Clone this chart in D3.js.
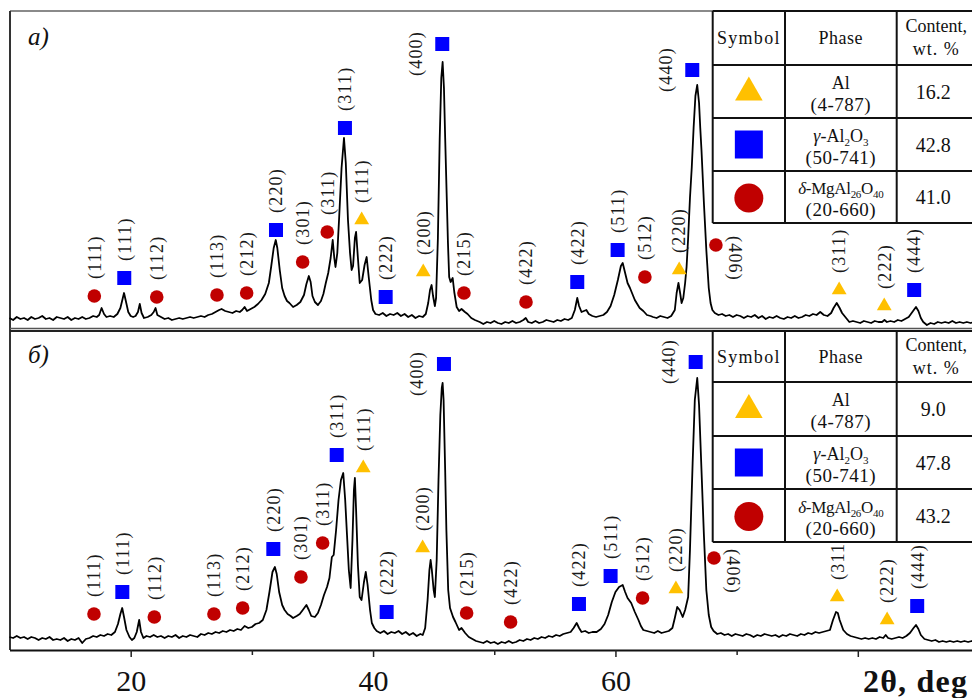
<!DOCTYPE html>
<html>
<head>
<meta charset="utf-8">
<script src="https://cdn.jsdelivr.net/npm/d3@7"></script>
<style>
  html, body { margin: 0; padding: 0; background: #fff; }
  svg { display: block; font-family: "Liberation Serif", "DejaVu Serif", serif; }
</style>
</head>
<body>
<svg id="chart" width="972" height="698"></svg>
<script>
// ---------------- DATA ----------------
// XRD pattern a): [2theta, intensity (a.u.)]
const patternA = [
[10.0,10],[10.3,8],[10.6,11],[10.9,9],[11.2,10],[11.5,8],[11.8,11],[12.1,9],[12.4,10],[12.7,12],
[13.0,9],[13.3,10],[13.6,8],[13.9,11],[14.2,10],[14.5,9],[14.8,11],[15.1,8],[15.4,10],[15.7,9],
[16.0,11],[16.3,9],[16.6,10],[16.9,12],[17.2,11],[17.4,13],[17.6,20],[17.8,14],[18.0,11],[18.3,12],
[18.6,11],[18.9,14],[19.15,20],[19.35,30],[19.45,35],[19.6,27],[19.8,16],[20.0,12],[20.2,11],[20.4,12],
[20.6,16],[20.75,24],[20.9,15],[21.1,10],[21.4,11],[21.7,13],[21.9,16],[22.05,20],[22.2,13],[22.5,11],
[22.8,9],[23.1,10],[23.4,8],[23.7,9],[24.0,10],[24.3,9],[24.6,10],[24.9,11],[25.2,10],[25.5,11],
[25.8,12],[26.1,11],[26.4,13],[26.7,14],[27.0,16],[27.3,18],[27.5,19],[27.8,17],[28.1,16],[28.4,15],
[28.7,17],[29.0,16],[29.2,18],[29.4,21],[29.6,17],[29.9,19],[30.2,21],[30.5,24],[30.8,28],[31.1,34],
[31.4,45],[31.6,62],[31.8,80],[31.97,88],[32.1,80],[32.3,58],[32.5,40],[32.7,32],[32.9,27],[33.1,25],
[33.4,21],[33.7,23],[34.0,26],[34.3,33],[34.5,44],[34.7,52],[34.85,46],[35.0,32],[35.2,26],[35.45,23],
[35.7,27],[35.9,34],[36.1,45],[36.3,55],[36.5,70],[36.67,88],[36.8,70],[36.9,61],[37.05,75],[37.2,110],
[37.4,160],[37.6,190],[37.75,165],[37.93,108],[38.1,75],[38.23,58],[38.35,62],[38.5,90],[38.6,96],[38.75,70],
[38.9,45],[39.1,48],[39.3,63],[39.47,71],[39.65,50],[39.85,28],[40.0,18],[40.2,14],[40.5,13],[40.8,15],
[41.1,12],[41.4,14],[41.7,13],[42.0,15],[42.3,12],[42.6,14],[42.9,11],[43.2,13],[43.5,10],[43.8,12],
[44.1,11],[44.35,14],[44.55,25],[44.7,38],[44.83,43],[44.95,32],[45.1,22],[45.2,30],[45.35,90],[45.5,190],
[45.63,250],[45.74,266],[45.85,240],[45.95,190],[46.07,135],[46.18,85],[46.28,51],[46.4,46],[46.57,50],[46.7,36],
[46.9,21],[47.1,17],[47.3,19],[47.58,16],[47.8,14],[48.1,10],[48.4,8],[48.8,6],[49.1,4],[49.4,6],
[49.7,5],[50.0,7],[50.3,5],[50.6,4],[50.9,6],[51.2,5],[51.5,7],[51.8,5],[52.1,6],[52.4,8],
[52.6,10],[52.8,6],[53.1,5],[53.4,7],[53.7,5],[54.0,6],[54.3,8],[54.6,7],[54.9,6],[55.2,8],
[55.5,7],[55.8,9],[56.1,8],[56.4,10],[56.65,18],[56.85,30],[57.0,22],[57.2,16],[57.4,17],[57.6,18],
[57.8,14],[58.1,12],[58.4,11],[58.7,12],[59.0,13],[59.3,16],[59.6,22],[59.9,33],[60.2,48],[60.45,62],
[60.6,65],[60.8,55],[61.0,45],[61.2,40],[61.4,34],[61.6,28],[61.75,25],[62.0,20],[62.3,17],[62.6,13],
[62.9,12],[63.1,11],[63.4,10],[63.7,12],[64.0,11],[64.3,10],[64.6,12],[64.9,18],[65.05,35],[65.2,45],
[65.35,34],[65.46,25],[65.6,30],[65.75,45],[65.87,61],[66.0,90],[66.15,130],[66.3,161],[66.45,200],[66.6,232],
[66.75,243],[66.9,225],[67.0,200],[67.1,178],[67.3,125],[67.5,78],[67.7,40],[67.85,25],[68.0,18],[68.2,15],
[68.5,13],[68.8,14],[69.1,12],[69.4,13],[69.7,11],[70.0,13],[70.3,12],[70.6,10],[70.9,12],[71.2,11],
[71.5,13],[71.8,10],[72.1,12],[72.4,9],[72.7,11],[73.0,10],[73.3,12],[73.6,10],[73.9,9],[74.2,11],
[74.5,10],[74.8,12],[75.1,10],[75.4,11],[75.7,13],[76.0,12],[76.3,14],[76.6,13],[76.9,16],[77.2,13],
[77.5,12],[77.8,15],[78.0,20],[78.26,25],[78.5,20],[78.7,15],[78.9,12],[79.1,9],[79.3,6],[79.6,7],
[79.9,6],[80.2,5],[80.5,7],[80.8,6],[81.1,5],[81.4,7],[81.7,6],[82.0,6],[82.2,8],[82.4,6],
[82.7,7],[83.0,6],[83.3,8],[83.6,7],[83.9,9],[84.2,11],[84.5,16],[84.8,21],[85.0,17],[85.2,10],
[85.4,6],[85.7,3],[86.0,5],[86.3,4],[86.6,6],[86.9,5],[87.2,6],[87.5,5],[87.8,7],[88.1,5],
[88.4,6],[88.7,5],[89.0,6],[89.3,5],[89.6,6],[90.0,6]
];

// XRD pattern б): [2theta, intensity (a.u.)]
const patternB = [
[10.0,13],[10.3,12],[10.6,14],[10.9,12],[11.2,13],[11.5,11],[11.8,13],[12.1,12],[12.4,10],[12.7,12],
[13.0,11],[13.3,13],[13.6,10],[13.9,11],[14.2,10],[14.5,12],[14.8,9],[15.1,11],[15.4,10],[15.7,12],
[16.0,7],[16.3,11],[16.6,12],[16.9,14],[17.2,13],[17.5,15],[17.8,14],[18.1,16],[18.4,15],[18.7,18],
[18.95,26],[19.15,36],[19.3,42],[19.45,33],[19.65,20],[19.9,13],[20.1,10],[20.3,12],[20.5,18],[20.7,30],
[20.85,18],[21.05,12],[21.3,14],[21.6,13],[21.9,15],[22.2,13],[22.5,14],[22.8,12],[23.1,14],[23.4,13],
[23.7,15],[24.0,12],[24.3,14],[24.6,13],[24.9,15],[25.2,14],[25.5,13],[25.8,16],[26.1,15],[26.4,17],
[26.7,16],[27.0,18],[27.3,17],[27.6,19],[27.9,18],[28.2,20],[28.5,19],[28.8,21],[29.1,20],[29.4,24],
[29.7,22],[30.0,23],[30.3,26],[30.6,27],[30.9,30],[31.2,40],[31.45,58],[31.7,78],[31.9,83],[32.05,76],
[32.25,58],[32.5,45],[32.7,40],[32.95,36],[33.2,34],[33.4,32],[33.7,34],[33.95,36],[34.2,40],[34.5,45],
[34.7,40],[34.9,34],[35.2,33],[35.45,37],[35.7,45],[35.95,55],[36.2,63],[36.4,72],[36.6,93],[36.75,95],
[36.95,120],[37.15,150],[37.35,170],[37.54,177],[37.7,150],[37.85,115],[38.0,80],[38.15,62],[38.3,110],[38.42,160],
[38.5,172],[38.6,140],[38.75,85],[38.9,53],[39.05,50],[39.25,68],[39.4,78],[39.55,65],[39.75,40],[39.9,27],
[40.1,22],[40.3,19],[40.6,17],[40.9,19],[41.2,16],[41.5,18],[41.8,17],[42.1,19],[42.4,16],[42.7,18],
[43.0,15],[43.3,17],[43.6,14],[43.9,16],[44.1,15],[44.3,22],[44.5,50],[44.65,80],[44.75,90],[44.85,80],
[45.0,60],[45.1,53],[45.25,90],[45.4,170],[45.55,235],[45.67,262],[45.74,267],[45.82,250],[45.95,180],[46.05,120],
[46.2,60],[46.35,42],[46.6,33],[46.8,28],[47.1,20],[47.3,22],[47.6,17],[47.9,13],[48.2,11],[48.5,9],
[48.8,8],[49.1,7],[49.4,9],[49.7,7],[50.0,8],[50.3,6],[50.6,8],[50.9,7],[51.2,9],[51.5,7],
[51.8,8],[52.1,10],[52.4,9],[52.7,11],[53.0,10],[53.3,12],[53.6,11],[53.9,13],[54.2,12],[54.5,14],
[54.8,13],[55.1,15],[55.4,14],[55.7,16],[56.0,17],[56.3,18],[56.55,22],[56.8,27],[57.0,22],[57.2,18],
[57.5,19],[57.8,17],[58.1,18],[58.45,18],[58.8,21],[59.1,26],[59.4,35],[59.7,48],[60.0,58],[60.3,63],
[60.6,65],[60.8,58],[61.0,52],[61.3,47],[61.6,38],[61.9,30],[62.1,24],[62.3,20],[62.6,19],[62.9,18],
[63.2,17],[63.5,19],[63.8,17],[64.1,18],[64.4,19],[64.7,22],[64.9,32],[65.1,43],[65.3,40],[65.55,33],
[65.75,40],[66.0,53],[66.15,100],[66.37,187],[66.55,250],[66.75,272],[66.9,245],[67.1,180],[67.3,115],[67.5,60],
[67.7,35],[67.9,23],[68.1,19],[68.4,16],[68.7,17],[69.0,15],[69.3,16],[69.6,14],[69.9,16],[70.2,15],
[70.5,14],[70.8,16],[71.1,15],[71.4,13],[71.7,15],[72.0,14],[72.3,16],[72.6,15],[72.9,14],[73.2,15],
[73.5,13],[73.8,15],[74.1,14],[74.4,16],[74.7,15],[75.0,14],[75.3,16],[75.6,15],[75.9,17],[76.2,16],
[76.5,18],[76.8,17],[77.1,18],[77.4,19],[77.7,20],[77.95,30],[78.2,38],[78.35,37],[78.5,30],[78.8,20],
[79.1,16],[79.4,14],[79.7,13],[80.0,12],[80.3,11],[80.6,12],[80.9,11],[81.2,12],[81.5,11],[81.8,13],
[82.1,12],[82.3,15],[82.5,12],[82.8,11],[83.1,12],[83.4,13],[83.7,12],[84.0,14],[84.3,17],[84.6,22],
[84.8,25],[85.0,21],[85.2,15],[85.5,11],[85.8,10],[86.1,9],[86.4,10],[86.7,8],[87.0,9],[87.3,8],
[87.6,9],[87.9,8],[88.2,9],[88.5,8],[88.8,9],[89.1,8],[89.4,9],[89.7,8],[90.0,8]
];

// Phase markers: [2theta, intensity, phase, (hkl)]
const markersA = [
[17.0,32,"d","(111)"],[19.47,50,"g","(111)"],[22.15,31,"d","(112)"],[27.12,33,"d","(113)"],
[29.57,35,"d","(212)"],[31.99,98,"g","(220)"],[34.19,66,"d","(301)"],[36.22,96,"d","(311)"],
[37.68,200,"g","(311)"],[39.06,108,"a","(111)"],[41.04,31,"g","(222)"],[44.14,56,"a","(200)"],
[45.71,284,"g","(400)"],[47.5,35,"d","(215)"],[52.62,26,"d","(422)"],[56.85,46,"g","(422)"],
[60.18,78,"g","(511)"],[62.43,51,"d","(512)"],[65.26,58,"a","(220)"],[66.34,258,"g","(440)"],
[68.29,83,"d","(406)"],[78.46,38,"a","(311)"],[82.18,22,"a","(222)"],[84.65,38,"g","(444)"]
];
const markersB = [
[16.97,36,"d","(111)"],[19.31,58,"g","(111)"],[21.95,33,"d","(112)"],[26.87,36,"d","(113)"],
[29.24,42,"d","(212)"],[31.77,101,"g","(220)"],[34.05,73,"d","(301)"],[35.84,107,"d","(311)"],
[37.0,195,"g","(311)"],[39.19,182,"a","(111)"],[41.12,38,"g","(222)"],[44.09,102,"a","(200)"],
[45.85,286,"g","(400)"],[47.72,37,"d","(215)"],[51.35,28,"d","(422)"],[56.99,46,"g","(422)"],
[59.6,74,"g","(511)"],[62.24,52,"d","(512)"],[64.99,61,"a","(220)"],[66.62,288,"g","(440)"],
[68.13,92,"d","(406)"],[78.3,53,"a","(311)"],[82.42,30,"a","(222)"],[84.9,44,"g","(444)"]
];

// Phase table
const phaseKeys = ["a", "g", "d"];
const phaseCards = ["(4-787)", "(50-741)", "(20-660)"];
const contentA = ["16.2", "42.8", "41.0"];
const contentB = ["9.0", "47.8", "43.2"];

// Axis
const majorTicks = [20, 40, 60, 80];
const minorTicks = [30, 50, 70];
const tickLabels = ["20", "40", "60", ""];

// ---------------- DRAW ----------------
const svg = d3.select("#chart");
const colors = { a: "#FFC000", g: "#0000FF", d: "#C00000" };

const x = d3.scaleLinear().domain([10, 90]).range([9.5, 979]);
const yA = d3.scaleLinear().domain([0, 317]).range([328, 11]);
const yB = d3.scaleLinear().domain([0, 319]).range([650, 331]);

// frames
svg.append("line").attr("x1", 10).attr("x2", 972).attr("y1", 11).attr("y2", 11)
  .attr("stroke", "#8a8a8a").attr("stroke-width", 2);
svg.append("line").attr("x1", 10).attr("x2", 10).attr("y1", 11).attr("y2", 650)
  .attr("stroke", "#333").attr("stroke-width", 2);
svg.append("line").attr("x1", 10).attr("x2", 972).attr("y1", 328.5).attr("y2", 328.5)
  .attr("stroke", "#555").attr("stroke-width", 1.5);
svg.append("line").attr("x1", 10).attr("x2", 972).attr("y1", 331).attr("y2", 331)
  .attr("stroke", "#222").attr("stroke-width", 2);

// bottom axis
const axisG = svg.append("g").attr("transform", "translate(0,650)");
axisG.call(d3.axisBottom(x).tickValues(majorTicks).tickSize(7).tickSizeOuter(0).tickPadding(0)
  .tickFormat((d, i) => tickLabels[i]));
axisG.select(".domain").attr("stroke", "#111").attr("stroke-width", 2);
axisG.selectAll(".tick line").attr("stroke", "#222").attr("stroke-width", 1.5);
axisG.selectAll(".tick text").attr("font-family", "Liberation Serif").attr("font-size", 30)
  .attr("fill", "#111").attr("y", 41).attr("dy", null);
const minorG = svg.append("g").attr("transform", "translate(0,650)");
minorG.call(d3.axisBottom(x).tickValues(minorTicks).tickSize(5).tickSizeOuter(0).tickFormat(""));
minorG.select(".domain").remove();
minorG.selectAll(".tick line").attr("stroke", "#222").attr("stroke-width", 1.5);

svg.append("text").attr("x", 863).attr("y", 692)
  .attr("font-family", "Liberation Serif").attr("font-weight", "bold").attr("font-size", 32)
  .attr("letter-spacing", 1.2).attr("fill", "#111").text("2θ, deg");

function drawPanel(pattern, markers, y, panelLabel, labelY) {
  const g = svg.append("g");
  const line = d3.line().x(d => x(d[0])).y(d => y(d[1]));
  g.append("path").datum(pattern).attr("d", line)
    .attr("fill", "none").attr("stroke", "#000").attr("stroke-width", 1.8).attr("stroke-linejoin", "round");

  const mg = g.append("g");
  markers.forEach(m => {
    const cx = x(m[0]), cy = y(m[1]);
    if (m[2] === "g") {
      mg.append("rect").attr("x", cx - 7).attr("y", cy - 7).attr("width", 14).attr("height", 14).attr("fill", colors.g);
    } else if (m[2] === "d") {
      mg.append("circle").attr("cx", cx).attr("cy", cy).attr("r", 6.8).attr("fill", colors.d);
    } else {
      mg.append("path").attr("d", d3.symbol(d3.symbolTriangle, 95)())
        .attr("transform", `translate(${cx},${cy})`).attr("fill", colors.a);
    }
    // hkl label
    let lx = cx, ly = cy - 17, rot = -90;
    if (m[3] === "(400)" && m[2] === "g") { lx = cx - 27; ly = cy + 32; }
    if (m[3] === "(440)" && m[2] === "g") { lx = cx - 27; ly = cy + 22; }
    if (m[3] === "(406)") { lx = cx + 19; ly = cy - 9; rot = 90; }
    mg.append("text")
      .attr("transform", `translate(${lx},${ly}) rotate(${rot})`)
      .attr("dy", "0.35em")
      .attr("font-family", "Liberation Serif").attr("font-size", 18).attr("letter-spacing", 1.2)
      .attr("fill", "#1a1a1a").text(m[3]);
  });

  svg.append("text").attr("x", 28).attr("y", labelY)
    .attr("font-family", "Liberation Serif").attr("font-style", "italic").attr("font-size", 25)
    .attr("fill", "#111").text(panelLabel);
}

drawPanel(patternA, markersA, yA, "a)", 45);
drawPanel(patternB, markersB, yB, "б)", 363);

function drawTable(top, rowLines, contents) {
  const cols = [712.7, 785, 896.7, 976];
  const g = svg.append("g");
  g.append("rect").attr("x", cols[0]).attr("y", rowLines[0]).attr("width", cols[3] - cols[0])
    .attr("height", rowLines[4] - rowLines[0]).attr("fill", "#fff");
  rowLines.forEach(r => g.append("line").attr("x1", cols[0]).attr("x2", cols[3]).attr("y1", r).attr("y2", r)
    .attr("stroke", "#111").attr("stroke-width", 2));
  cols.forEach(c => g.append("line").attr("x1", c).attr("x2", c).attr("y1", rowLines[0]).attr("y2", rowLines[4])
    .attr("stroke", "#111").attr("stroke-width", 2));

  const txt = (xx, yy, s, size) => g.append("text").attr("x", xx).attr("y", yy).attr("text-anchor", "middle")
    .attr("font-family", "Liberation Serif").attr("font-size", size || 18).attr("fill", "#111").text(s);

  const c0 = (cols[0] + cols[1]) / 2, c1 = (cols[1] + cols[2]) / 2, c2 = (cols[2] + cols[3]) / 2;
  const h0 = (rowLines[0] + rowLines[1]) / 2;
  txt(c0, h0 + 6, "Symbol", 18).attr("letter-spacing", 1.3);
  txt(c1, h0 + 6, "Phase", 18).attr("letter-spacing", 0.5);
  txt(c2, h0 - 6, "Content,", 18);
  txt(c2, h0 + 17, "wt. %", 18).attr("letter-spacing", 1);

  phaseKeys.forEach((k, i) => {
    const cy = (rowLines[i + 1] + rowLines[i + 2]) / 2;
    if (k === "a") {
      g.append("path").attr("d", d3.symbol(d3.symbolTriangle, 330)()).attr("transform", `translate(${c0},${cy + 1})`).attr("fill", colors.a);
    } else if (k === "g") {
      g.append("rect").attr("x", c0 - 14).attr("y", cy - 14).attr("width", 28).attr("height", 28).attr("fill", colors.g);
    } else {
      g.append("circle").attr("cx", c0).attr("cy", cy + 1).attr("r", 14.5).attr("fill", colors.d);
    }
    // phase name
    const t = g.append("text").attr("x", c1).attr("y", cy - 3).attr("text-anchor", "middle")
      .attr("font-family", "Liberation Serif").attr("font-size", 18).attr("fill", "#111");
    if (k === "a") {
      t.text("Al");
    } else if (k === "g") {
      t.append("tspan").attr("font-style", "italic").text("γ");
      t.append("tspan").text("-Al");
      t.append("tspan").attr("font-size", 11).attr("dy", 4).text("2");
      t.append("tspan").attr("dy", -4).text("O");
      t.append("tspan").attr("font-size", 11).attr("dy", 4).text("3");
    } else {
      t.attr("font-size", 17).attr("letter-spacing", -0.3);
      t.append("tspan").attr("font-style", "italic").text("δ");
      t.append("tspan").text("-MgAl");
      t.append("tspan").attr("font-size", 11).attr("dy", 4).text("26");
      t.append("tspan").attr("dy", -4).text("O");
      t.append("tspan").attr("font-size", 11).attr("dy", 4).text("40");
    }
    txt(c1, cy + 19, phaseCards[i], 19).attr("letter-spacing", 0.5);
    txt(c2 - 3, cy + 7, contents[i], 20);
  });
}

drawTable(11, [11, 65, 118, 171, 223], contentA);
drawTable(331, [331, 382, 436, 489, 542], contentB);
</script>
</body>
</html>
